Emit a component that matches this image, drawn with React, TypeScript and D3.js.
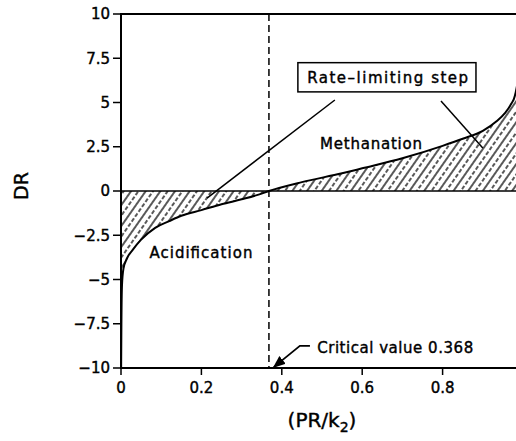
import React from 'react';
import * as d3 from 'd3';

const width = 516;
const height = 441;

// curve: x = PR/k2, DR
const xValues = [0.0003, 0.001, 0.0025, 0.006, 0.015, 0.03, 0.05, 0.085, 0.12, 0.15, 0.2, 0.25, 0.3, 0.34, 0.368,
  0.45, 0.55, 0.6, 0.7, 0.8, 0.85, 0.9, 0.935, 0.955, 0.97, 0.98, 0.99, 0.997];
const drValues = [-10, -7.5, -5.3, -4.4, -3.8, -3.3, -2.75, -2.08, -1.7, -1.4, -1.08, -0.75, -0.47, -0.22, 0,
  0.5, 1.0, 1.28, 1.85, 2.55, 2.95, 3.4, 3.95, 4.4, 4.9, 5.4, 6.9, 10];

const xTicks = [0, 0.2, 0.4, 0.6, 0.8];
const yTicks = [10, 7.5, 5, 2.5, 0, -2.5, -5, -7.5, -10];
const criticalValue = 0.368;

const x = d3.scaleLinear().domain([0, 1]).range([121, 523]);
const y = d3.scaleLinear().domain([-10, 10]).range([368, 14]);

const points: [number, number][] = xValues.map((v, i) => [v, drValues[i]]);

const line = d3.line<[number, number]>()
  .x(d => x(d[0]))
  .y(d => y(d[1]))
  .curve(d3.curveMonotoneX);

const area = d3.area<[number, number]>()
  .x(d => x(d[0]))
  .y0(y(0))
  .y1(d => y(d[1]))
  .curve(d3.curveMonotoneX);

const fmt = (v: number) => (v < 0 ? '\u2212' + Math.abs(v) : String(v));
const font = '"DejaVu Sans", sans-serif';
const ink = { stroke: '#000', strokeWidth: 0.4 };

const App = () => {
  return (
    <svg width={width} height={height} style={{ position: 'absolute', left: 0, top: 0, background: '#fff' }}
      fontFamily={font}>
      <defs>
        <clipPath id="plot">
          <rect x={x(0)} y={y(10)} width={x(1) - x(0)} height={y(-10) - y(10)} />
        </clipPath>
        <pattern id="hatch" patternUnits="userSpaceOnUse" width={12} height={12} patternTransform="rotate(35)">
          <line x1={1} y1={0} x2={1} y2={12} stroke="#000" strokeWidth={1.3} />
          <line x1={7} y1={0} x2={7} y2={12} stroke="#000" strokeWidth={1.3} strokeDasharray="4 2" />
        </pattern>
        <marker id="arrow" viewBox="0 0 10 10" refX={9} refY={5} markerWidth={7} markerHeight={7} orient="auto">
          <path d="M0,1 L10,5 L0,9 z" fill="#000" />
        </marker>
      </defs>

      <g clipPath="url(#plot)">
        <path d={area(points) || ''} fill="url(#hatch)" />
        <path d={line(points) || ''} fill="none" stroke="#000" strokeWidth={2} />
      </g>

      {/* zero line */}
      <line x1={x(0)} x2={x(1)} y1={y(0)} y2={y(0)} stroke="#000" strokeWidth={1.5} />

      {/* frame */}
      <rect x={x(0)} y={y(10)} width={x(1) - x(0)} height={y(-10) - y(10)} fill="none" stroke="#000" strokeWidth={2} />

      {/* critical value */}
      <line x1={x(criticalValue)} x2={x(criticalValue)} y1={y(10)} y2={y(-10)}
        stroke="#000" strokeWidth={1.5} strokeDasharray="7 4" />

      {yTicks.map(t => (
        <g key={t}>
          <line x1={x(0) - 8} x2={x(0)} y1={y(t)} y2={y(t)} stroke="#000" strokeWidth={1.5} />
          <text x={x(0) - 11} y={y(t)} dy="0.36em" textAnchor="end" fontSize={15} {...ink}>{fmt(t)}</text>
        </g>
      ))}
      {xTicks.map(t => (
        <g key={t}>
          <line x1={x(t)} x2={x(t)} y1={y(-10)} y2={y(-10) + 7} stroke="#000" strokeWidth={1.5} />
          <text x={x(t)} y={y(-10) + 20} dy="0.36em" textAnchor="middle" fontSize={15} {...ink}>{t}</text>
        </g>
      ))}

      <text x={322} y={427} textAnchor="middle" fontSize={20} {...ink}>
        (PR/k<tspan fontSize={14} dy={5}>2</tspan><tspan dy={-5}>)</tspan>
      </text>
      <text transform="translate(28,186) rotate(-90)" textAnchor="middle" fontSize={19} {...ink}>DR</text>

      {/* annotations */}
      <text x={(x(0.07) + x(0.33)) / 2 - 0.5} y={y(-3.5)} dy="0.36em" textAnchor="middle" fontSize={15}
        textLength={103} {...ink}>Acidification</text>
      <text x={x(0.495)} y={y(2.65)} dy="0.36em" fontSize={15} textLength={102} {...ink}>Methanation</text>

      <rect x={x(0.44)} y={y(7.25)} width={x(0.883) - x(0.44)} height={y(5.6) - y(7.25)}
        fill="#fff" stroke="#000" strokeWidth={1.5} />
      <text x={x(0.463)} y={y(6.42)} dy="0.36em" fontSize={15} textLength={161} {...ink}>Rate{'\u2013'}limiting step</text>
      <line x1={x(0.532)} y1={y(5.14)} x2={x(0.214)} y2={y(-0.4)} stroke="#000" strokeWidth={1.5} />
      <line x1={x(0.796)} y1={y(5.08)} x2={x(0.9)} y2={y(2.43)} stroke="#000" strokeWidth={1.5} />

      <polyline points={[[0.47, -8.75], [0.445, -8.75], [0.38, -9.95]].map(p => `${x(p[0])},${y(p[1])}`).join(' ')}
        fill="none" stroke="#000" strokeWidth={1.8} markerEnd="url(#arrow)" />
      <text x={x(0.488)} y={y(-8.85)} dy="0.36em" fontSize={15} textLength={156} {...ink}>Critical value 0.368</text>
    </svg>
  );
};

export default App;
